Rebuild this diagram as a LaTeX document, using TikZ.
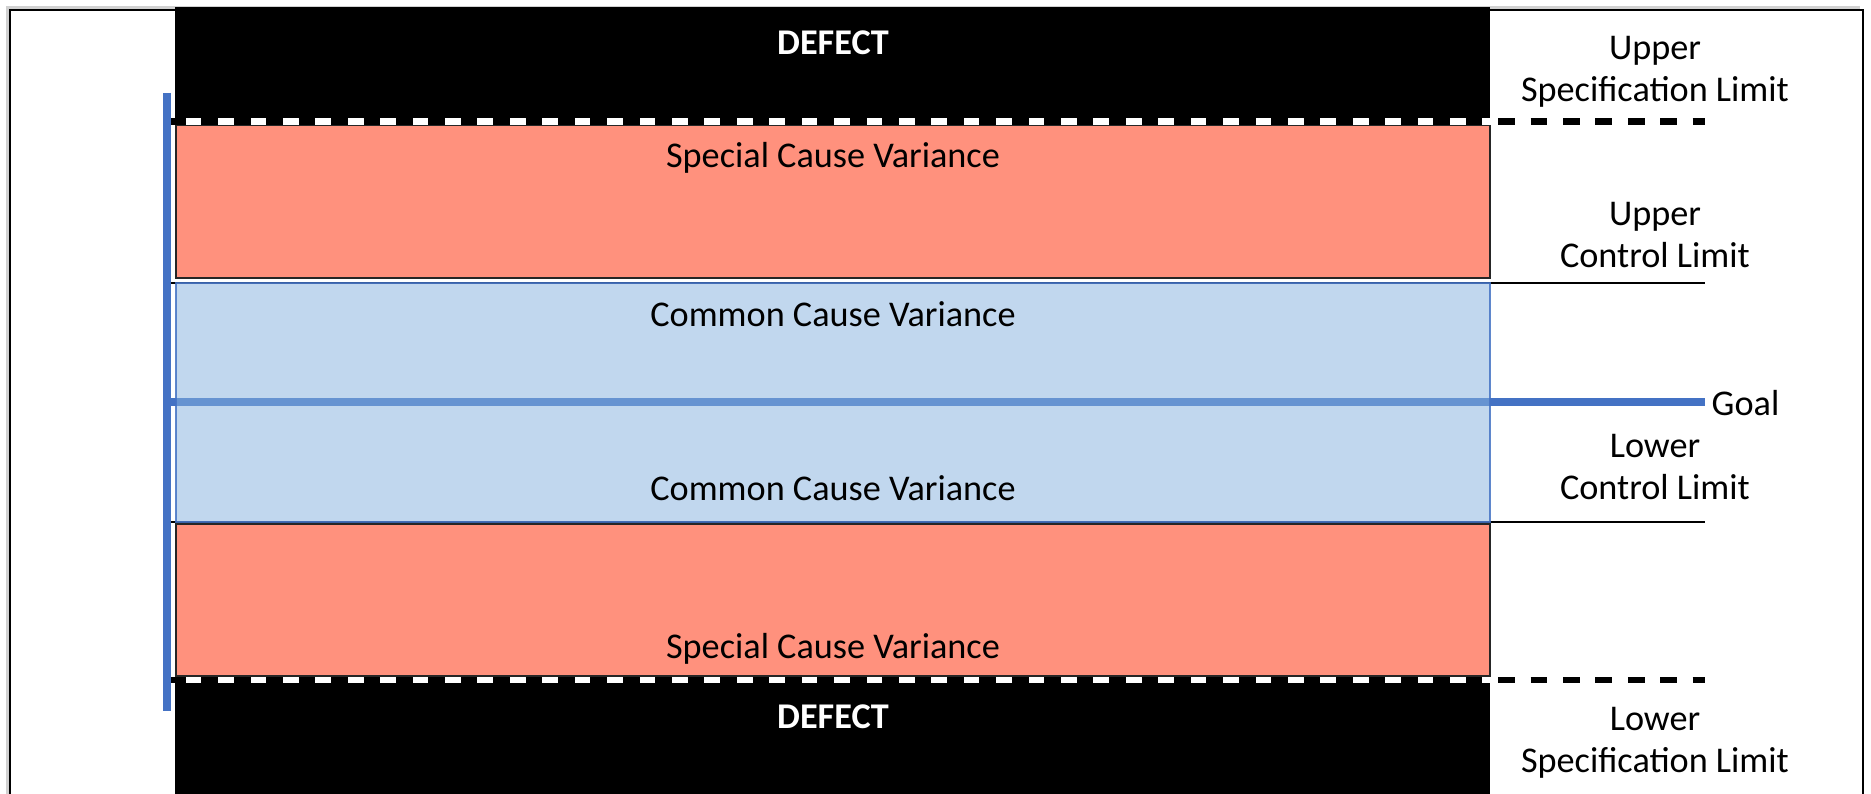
\documentclass[tikz,border=0pt]{standalone}
\usepackage{fontspec}
\setmainfont{Carlito}
\usepackage{xcolor}
\usetikzlibrary{positioning}
\definecolor{specred}{RGB}{255,145,125}
\definecolor{ccblue}{RGB}{136,179,222}
\definecolor{goalblue}{RGB}{68,114,196}

\begin{document}
\begin{tikzpicture}[
    x=0.01cm, y=-0.01cm,
    every node/.style={font=\fontsize{10.3pt}{12pt}\selectfont, inner sep=0pt},
    defect/.style={fill=black},
    special/.style={fill=specred, draw=black!85, line width=0.45pt},
    common/.style={fill=ccblue, fill opacity=0.515, draw=goalblue, draw opacity=0.85, line width=0.45pt},
    ctrlline/.style={draw=black, line width=0.55pt},
    specgap/.style={draw=white, line width=1.75pt},
    specline/.style={draw=black, line width=1.75pt, dash pattern=on 0.167cm off 0.157cm},
    goalline/.style={draw=goalblue, line width=2.3pt},
    bandtext/.style={text=black},
    limittext/.style={align=center, text=black}
]
\useasboundingbox (0,0) rectangle (1871,794);
\clip (0,0) rectangle (1871,794);
% frame
\fill[black!18] (6,6) rectangle (1860,830);
\filldraw[fill=white, draw=black, line width=0.7pt] (10,10) rectangle (1863,830);

% control limits behind the bands
\draw[ctrlline] (169,283) -- (1705,283);
\draw[ctrlline] (169,522) -- (1705,522);

% bands
\fill[defect] (175,7) rectangle (1490,119);
\filldraw[special] (176,125) rectangle (1490,278);
\draw[goalline] (167,402) -- (1705,402);
\filldraw[common] (176,283) rectangle (1490,522);
\filldraw[special] (176,524) rectangle (1490,676);
\fill[defect] (175,682) rectangle (1490,830);

% specification limits
\draw[specgap] (169,121.5) -- (1705,121.5);
\draw[specline] (169,121.5) -- (1705,121.5);
\draw[specgap] (169,680) -- (1705,680);
\draw[specline] (169,680) -- (1705,680);

% axis
\draw[goalline, line width=2.4pt] (167,93) -- (167,711);

\node[text=white, font=\fontsize{10.3pt}{12pt}\selectfont\bfseries] (dtop) at (833,43) {DEFECT};
\node[bandtext] (sctop) at (833,158) {Special Cause Variance};
\node[bandtext] (cctop) at (833,314) {Common Cause Variance};
\node[bandtext] (ccbot) at (833,488) {Common Cause Variance};
\node[bandtext] (scbot) at (833,649) {Special Cause Variance};
\node[text=white, font=\fontsize{10.3pt}{12pt}\selectfont\bfseries] (dbot) at (833,717) {DEFECT};

\node[limittext] (usl) at (1655,72) {Upper\\Specification Limit};
\node[limittext] (ucl) at (1655,235) {Upper\\Control Limit};
\node[anchor=west] (goal) at (1711,403) {Goal};
\node[limittext] (lcl) at (1655,467) {Lower\\Control Limit};
\node[limittext] (lsl) at (1655,743) {Lower\\Specification Limit};
\end{tikzpicture}
\end{document}
